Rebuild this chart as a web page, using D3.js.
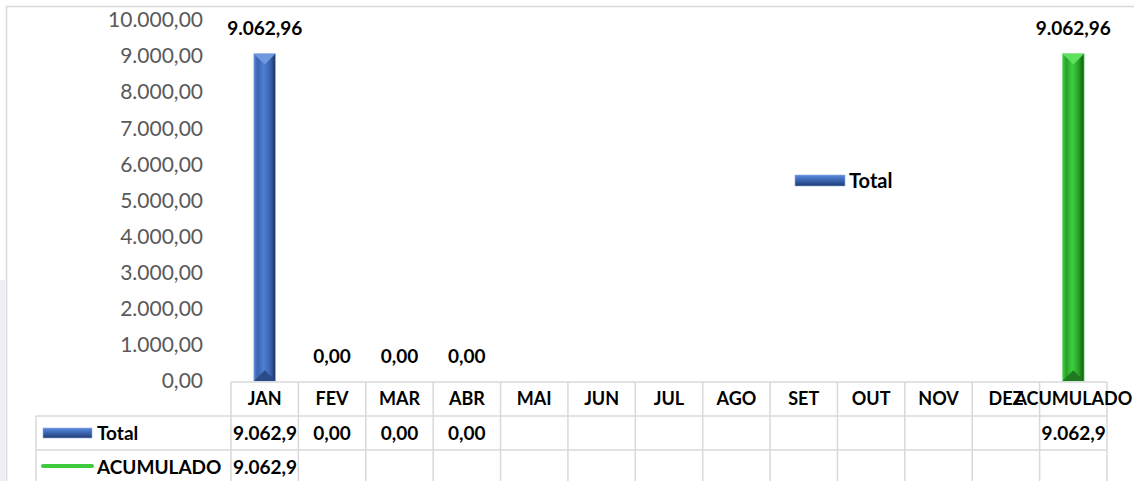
<!DOCTYPE html>
<html>
  <head>
    <meta charset="utf-8">
    <title>Total por mes</title>
    <script src="https://d3js.org/d3.v7.min.js"></script>
  </head>
  <style>
    body { margin: 0; background: #fff; }
    svg { display: block; font-family: Lato, "Open Sans", sans-serif; }
    .tick text { fill: #595959; font-size: 21px; }
    .lbl { font-weight: bold; font-size: 19px; fill: #000; }
    .hdr { font-size: 18px; }
    .grid { stroke: #d9d9d9; stroke-width: 1.5; }
  </style>
  <body>
    <script type="text/javascript">
        var width = 1134;
        var height = 481;

        // data
        const categories = ['JAN','FEV','MAR','ABR','MAI','JUN','JUL','AGO','SET','OUT','NOV','DEZ','ACUMULADO'];
        const totalValues = [9062.96, 0, 0, 0, null, null, null, null, null, null, null, null, 9062.96];
        const acumuladoValues = [9062.96, null, null, null, null, null, null, null, null, null, null, null, null];
        const yTicks = [0,1000,2000,3000,4000,5000,6000,7000,8000,9000,10000];

        const br = d3.formatLocale({decimal: ',', thousands: '.', grouping: [3], currency: ['R$', '']});
        const fmt = br.format(',.2f');

        const svg = d3.select('body').append('svg').attr('width', width).attr('height', height);
        const defs = svg.append('defs');

        function bevel(id, light, mid, dark) {
            const g = defs.append('linearGradient').attr('id', id).attr('x1', 0).attr('x2', 1).attr('y1', 0).attr('y2', 0);
            g.append('stop').attr('offset', '0%').attr('stop-color', light);
            g.append('stop').attr('offset', '18%').attr('stop-color', mid);
            g.append('stop').attr('offset', '45%').attr('stop-color', light);
            g.append('stop').attr('offset', '75%').attr('stop-color', mid);
            g.append('stop').attr('offset', '100%').attr('stop-color', dark);
        }
        bevel('blueBar', '#4f7fd4', '#3a64b0', '#1c3260');
        bevel('greenBar', '#3fcf3f', '#27a127', '#115511');
        const kg = defs.append('linearGradient').attr('id', 'blueKey').attr('x1', 0).attr('x2', 0).attr('y1', 0).attr('y2', 1);
        kg.append('stop').attr('offset', '0%').attr('stop-color', '#5b8bdc');
        kg.append('stop').attr('offset', '50%').attr('stop-color', '#3a64b0');
        kg.append('stop').attr('offset', '100%').attr('stop-color', '#1f3a70');

        // background bits
        svg.append('rect').attr('x', 0).attr('y', 280).attr('width', 5).attr('height', 201).attr('fill', '#eef0f6');
        svg.append('rect').attr('x', 6.5).attr('y', 6.5).attr('width', 1200).attr('height', 600)
          .attr('fill', 'none').attr('stroke', '#d9d9d9').attr('stroke-width', 1.5);

        const x = d3.scaleBand().domain(categories).range([231, 1107]);
        const y = d3.scaleLinear().domain([0, 10000]).range([381, 20]);

        // y axis
        const yAxis = svg.append('g').attr('transform', 'translate(231,0)')
          .call(d3.axisLeft(y).tickValues(yTicks).tickSize(0).tickPadding(28).tickFormat(fmt));
        yAxis.select('.domain').remove();
        yAxis.selectAll('text').style('font-family', 'Lato, sans-serif');

        // bars
        const bw = x.bandwidth() * 0.32;
        const barData = categories.map((c, i) => ({c: c, v: totalValues[i], acc: c === 'ACUMULADO'}))
          .filter(d => d.v !== null);
        const gBars = svg.append('g');
        barData.filter(d => d.v > 0).forEach(d => {
            const x0 = x(d.c) + (x.bandwidth() - bw) / 2;
            const y0 = y(d.v), y1 = y(0);
            gBars.append('rect').attr('x', x0).attr('y', y0).attr('width', bw).attr('height', y1 - y0)
              .attr('fill', d.acc ? 'url(#greenBar)' : 'url(#blueBar)')
              .attr('stroke', d.acc ? '#7fdc7f' : '#8fb0e8').attr('stroke-width', 0.8);
            // bevel top and bottom
            gBars.append('path').attr('d', `M${x0},${y0}L${x0 + bw},${y0}L${x0 + bw / 2},${y0 + bw / 2}Z`)
              .attr('fill', d.acc ? '#5fe05f' : '#6f98e0');
            gBars.append('path').attr('d', `M${x0},${y1}L${x0 + bw},${y1}L${x0 + bw / 2},${y1 - bw / 2}Z`)
              .attr('fill', d.acc ? '#1f7a1f' : '#2a4a88');
        });

        // data labels
        svg.append('g').selectAll('text').data(barData).enter().append('text')
          .attr('class', 'lbl').attr('text-anchor', 'middle')
          .attr('x', d => x(d.c) + x.bandwidth() / 2)
          .attr('y', d => (d.v > 0 ? y(d.v) - 25 : y(0) - 25))
          .attr('dy', '0.35em')
          .text(d => fmt(d.v));

        // legend in plot
        const lg = svg.append('g').attr('transform', 'translate(795,175)');
        lg.append('rect').attr('width', 50).attr('height', 11).attr('fill', 'url(#blueKey)').attr('stroke', '#8fb0e8').attr('stroke-width', 0.6);
        lg.append('text').attr('class', 'lbl').attr('x', 54).attr('y', 6).attr('dy', '0.35em').style('font-size', '20px').text('Total');

        // data table
        const rows = [382, 416, 450, 484];
        const tbl = svg.append('g');
        tbl.append('line').attr('class', 'grid').attr('x1', 231).attr('x2', 1107).attr('y1', rows[0]).attr('y2', rows[0]);
        tbl.append('line').attr('class', 'grid').attr('x1', 36).attr('x2', 1107).attr('y1', rows[1]).attr('y2', rows[1]);
        tbl.append('line').attr('class', 'grid').attr('x1', 36).attr('x2', 1107).attr('y1', rows[2]).attr('y2', rows[2]);
        tbl.append('line').attr('class', 'grid').attr('x1', 36).attr('x2', 36).attr('y1', rows[1]).attr('y2', height);
        x.domain().forEach(c => {
            tbl.append('line').attr('class', 'grid').attr('x1', x(c)).attr('x2', x(c)).attr('y1', rows[0]).attr('y2', height);
        });
        tbl.append('line').attr('class', 'grid').attr('x1', 1107).attr('x2', 1107).attr('y1', rows[0]).attr('y2', height);

        // header
        tbl.selectAll('text.hdr').data(categories).enter().append('text')
          .attr('class', 'lbl hdr').attr('text-anchor', 'middle')
          .attr('x', d => x(d) + x.bandwidth() / 2).attr('y', (rows[0] + rows[1]) / 2).attr('dy', '0.35em')
          .text(d => d);

        // cells
        function cellRow(vals, r) {
            const yc = (rows[r] + rows[r + 1]) / 2;
            vals.forEach((v, i) => {
                if (v === null) return;
                const c = categories[i];
                const id = 'clip' + r + '_' + i;
                defs.append('clipPath').attr('id', id).append('rect')
                  .attr('x', x(c) + 1).attr('y', rows[r]).attr('width', x.bandwidth() - 2).attr('height', rows[r + 1] - rows[r]);
                const t = tbl.append('text').attr('class', 'lbl').attr('clip-path', `url(#${id})`)
                  .attr('y', yc).attr('dy', '0.35em').text(fmt(v));
                const w = t.node().getComputedTextLength();
                if (w > x.bandwidth() - 4) t.attr('x', x(c) + 2).attr('text-anchor', 'start');
                else t.attr('x', x(c) + x.bandwidth() / 2).attr('text-anchor', 'middle');
            });
        }
        cellRow(totalValues, 1);
        cellRow(acumuladoValues, 2);

        // row labels with keys
        tbl.append('rect').attr('x', 43).attr('y', (rows[1] + rows[2]) / 2 - 5).attr('width', 49).attr('height', 10)
          .attr('fill', 'url(#blueKey)').attr('stroke', '#8fb0e8').attr('stroke-width', 0.6);
        tbl.append('text').attr('class', 'lbl').attr('x', 97).attr('y', (rows[1] + rows[2]) / 2).attr('dy', '0.35em').text('Total');
        tbl.append('line').attr('x1', 43).attr('x2', 92).attr('y1', (rows[2] + rows[3]) / 2 - 1).attr('y2', (rows[2] + rows[3]) / 2 - 1)
          .attr('stroke', '#3ecb3e').attr('stroke-width', 4).attr('stroke-linecap', 'round');
        tbl.append('text').attr('class', 'lbl').attr('x', 97).attr('y', (rows[2] + rows[3]) / 2).attr('dy', '0.35em').text('ACUMULADO');
      </script>
  </body>
</html>
